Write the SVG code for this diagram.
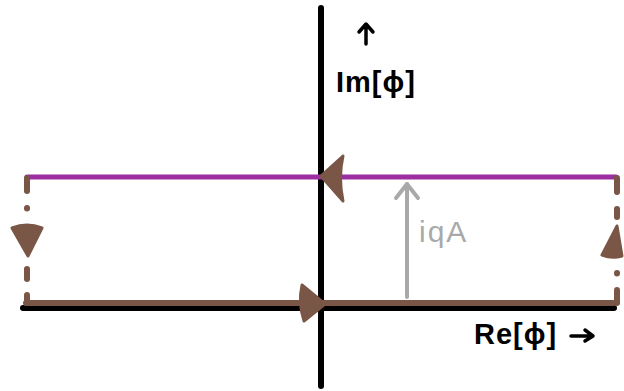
<svg xmlns="http://www.w3.org/2000/svg" width="624" height="391" viewBox="0 0 624 391">
<style>
.axis{stroke:#000;stroke-width:6;stroke-linecap:round;fill:none}
.brown{stroke:#7a5646;stroke-width:6;stroke-linecap:round;fill:none}
.purple{stroke:#9b2ea0;stroke-width:5;stroke-linecap:round;fill:none}
.head{fill:#7a5646;stroke:#7a5646;stroke-width:3;stroke-linejoin:round}
.gray{stroke:#a9a9a9;stroke-width:4;stroke-linecap:round;stroke-linejoin:round;fill:none}
.pen{stroke:#000;stroke-width:3.5;stroke-linecap:round;stroke-linejoin:round;fill:none}
.lbl{font-family:"Liberation Sans",sans-serif;font-size:29px;fill:#000;font-weight:bold;letter-spacing:1px}
.glbl{font-family:"Liberation Sans",sans-serif;font-size:30px;fill:#a9a9a9;letter-spacing:2px}
</style>
<rect width="624" height="391" fill="#fff"/>
<g id="axes">
<line class="axis" x1="23" y1="308" x2="614" y2="308"/>
<line class="axis" x1="321" y1="8" x2="321" y2="386"/>
</g>
<g id="connectors">
<line id="bottom" class="brown" x1="26" y1="303" x2="613" y2="303"/>
<line id="top" class="purple" x1="27" y1="177" x2="616" y2="177"/>
<g id="left">
<line class="brown" x1="27" y1="178" x2="27" y2="191"/>
<line class="brown" x1="27" y1="208" x2="27" y2="208.5"/>
<line class="brown" x1="27" y1="269" x2="27" y2="279"/>
<line class="brown" x1="27" y1="295" x2="27" y2="303"/>
<path class="head" d="M12 228 Q27 222 42 228 L28 256 Z"/>
</g>
<g id="right">
<line class="brown" x1="617" y1="178" x2="617" y2="192"/>
<line class="brown" x1="617" y1="209" x2="617" y2="217"/>
<line class="brown" x1="617" y1="273" x2="617" y2="273.5"/>
<line class="brown" x1="617" y1="290" x2="617" y2="303"/>
<path class="head" d="M617 226 L602 255 Q612 259 622 256 Z"/>
</g>
<path class="head" d="M302 285 L325 304 L304 321 Q298 303 302 285 Z"/>
<path class="head" d="M343 156 L321 176 L343 201 Q338 178 343 156 Z"/>
<g id="iqA">
<line class="gray" x1="407" y1="297" x2="407" y2="184"/>
<polyline class="gray" points="396,198 407,184 418,198"/>
</g>
<g id="arrows">
<path class="pen" d="M366 44 L366 25 M359 32 L366 24 L373 32"/>
<path class="pen" d="M571 336 L593 336 M585 330 L593 336 L585 341"/>
</g>
</g>
<g id="labels">
<text class="lbl" x="336" y="92">Im[ϕ]</text>
<text class="glbl" x="419" y="242">iqA</text>
<text class="lbl" x="474" y="344">Re[ϕ]</text>
</g>
</svg>
